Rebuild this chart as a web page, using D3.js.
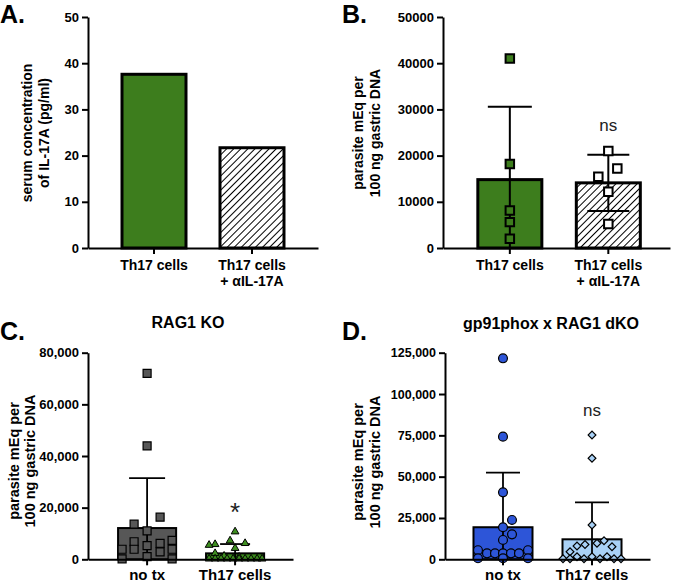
<!DOCTYPE html>
<html><head><meta charset="utf-8">
<script src="https://cdn.jsdelivr.net/npm/d3@7"></script>
<style>body{margin:0;background:#fff}svg{display:block}</style>
</head><body>
<script>
// ================= DATA =================
// Panel A
const aCategories = ["Th17 cells", "Th17 cells|+ \u03B1IL-17A"];
const aValues = [37.6, 21.7];
const aTicks = [0, 10, 20, 30, 40, 50];
// Panel B
const bCategories = ["Th17 cells", "Th17 cells|+ \u03B1IL-17A"];
const bMeans = [14800, 14100];
const bSD = [15800, 6100];
const bTh17 = [41000, 18200, 8100, 5600, 2000];
const bAnti = [21000, 17200, 15400, 12200, 5200];
const bTicks = [0, 10000, 20000, 30000, 40000, 50000];
// Panel C (RAG1 KO)
const cCategories = ["no tx", "Th17 cells"];
const cMeans = [12100, 2300];
const cSD = [19300, 3600];
const cNoTx = [72000, 43900, 16300, 13600, 11000, 7300, 6800, 6200, 5300, 3900, 3900, 3900, 2900, 1000, 200, 200];
const cTh17 = [10700, 7200, 6200, 5800, 5500, 4300, 2300, 1300, 900, 200, 200, 200, 200, 200, 200, 200, 200, 200, 200];
const cTicks = [0, 20000, 40000, 60000, 80000];
// Panel D (gp91phox x RAG1 dKO)
const dCategories = ["no tx", "Th17 cells"];
const dMeans = [19400, 12100];
const dSD = [33000, 22400];
const dNoTx = [121600, 74200, 40500, 23800, 19400, 15100, 11700, 5500, 3600, 3600, 3600, 3600, 3600, 5500, 600, 600, 600];
const dTh17 = [75200, 61100, 20800, 11200, 9700, 9000, 8000, 7600, 4600, 1600, 1600, 1600, 300, 300, 300, 300, 300, 300];
const dTicks = [0, 25000, 50000, 75000, 100000, 125000];

// ================= LAYOUT (horizontal scatter offsets, px) =================
const bAntiJitter = [0, 9, -10, 0, 0];
const cNoTxJitter = [0, 0, 13, -13, 0, 25, -13, 13, 0, -25, -13, 25, 13, 0, -25, 25];
const cTh17Jitter = [0, -5, 10, -20, -26, 0, -20, -11, 4, -26, -20, -14, -8, -2, 4, 10, 16, 22, 27];
const dNoTxJitter = [0, 0, 0, 9, 0, 9, 0, -25, -16, -8, 0, 8, 16, 25, -25, 0, 25];
const dTh17Jitter = [0, 0, 0, 12, 5, -7, -15, 20, -22, -15, 0, 15, -29, -22, -8, 8, 22, 29];

const FONT = "'Liberation Sans', Arial, Helvetica, sans-serif";
const W = 675, H = 584;
const svg = d3.select("body").append("svg").attr("width", W).attr("height", H)
  .style("font-family", FONT);

const defs = svg.append("defs");
const pat = defs.append("pattern").attr("id", "hatch").attr("patternUnits", "userSpaceOnUse")
  .attr("width", 5).attr("height", 5).attr("patternTransform", "rotate(45)");
pat.append("rect").attr("width", 5).attr("height", 5).attr("fill", "#fff");
pat.append("line").attr("x1", 0).attr("y1", 0).attr("x2", 0).attr("y2", 5)
  .attr("stroke", "#000").attr("stroke-width", 2);

function drawPanel(p) {
  const g = svg.append("g");
  const y = d3.scaleLinear().domain([0, p.max]).range([p.yBot, p.yTop]);
  const x = d3.scaleBand().domain(p.cats).range([p.x0, p.x1])
    .paddingInner(p.pi).paddingOuter(p.po).align(p.align);
  const cx = i => x(p.cats[i]) + x.bandwidth() / 2;

  // bars
  g.selectAll("rect.bar").data(p.means).join("rect").attr("class", "bar")
    .attr("x", (d, i) => x(p.cats[i]))
    .attr("y", d => y(d))
    .attr("width", x.bandwidth())
    .attr("height", d => y(0) - y(d))
    .attr("fill", (d, i) => p.fills[i])
    .attr("stroke", "#000").attr("stroke-width", p.barStroke);

  // error bars
  if (p.sds) {
    p.sds.forEach((sd, i) => {
      const m = p.means[i];
      const hi = m + sd, lo = Math.max(0, m - sd);
      const xc = cx(i);
      const eg = g.append("g").attr("stroke", "#000").attr("stroke-width", p.errStroke);
      eg.append("line").attr("x1", xc).attr("x2", xc).attr("y1", y(lo)).attr("y2", y(hi));
      eg.append("line").attr("x1", xc - p.capW[i] / 2).attr("x2", xc + p.capW[i] / 2).attr("y1", y(hi)).attr("y2", y(hi));
      if (m - sd > 0)
        eg.append("line").attr("x1", xc - p.capW[i] / 2).attr("x2", xc + p.capW[i] / 2).attr("y1", y(lo)).attr("y2", y(lo));
    });
  }

  // points
  if (p.points) {
    p.points.forEach((ps, i) => {
      const sym = d3.symbol().type(ps.type).size(ps.size);
      g.selectAll(null).data(ps.values).join("path")
        .attr("d", sym)
        .attr("transform", (d, j) => `translate(${cx(i) + (ps.jitter ? ps.jitter[j] : 0)},${y(d)})` + (ps.rotate ? ` rotate(${ps.rotate})` : ""))
        .attr("fill", ps.fill).attr("stroke", "#000").attr("stroke-width", ps.stroke);
    });
  }

  // y axis
  const ya = g.append("g").attr("transform", `translate(${p.x0},0)`)
    .call(d3.axisLeft(y).tickValues(p.ticks).tickFormat(p.fmt).tickSize(6).tickSizeOuter(0).tickPadding(3));
  ya.select(".domain").attr("stroke", "#000").attr("stroke-width", 2);
  ya.selectAll(".tick line").attr("stroke", "#000").attr("stroke-width", 2);
  ya.selectAll(".tick text").attr("font-family", FONT).attr("font-weight", "bold")
    .attr("font-size", p.tickFont).attr("fill", "#000");

  // x axis
  const xa = g.append("g").attr("transform", `translate(0,${p.yBot})`)
    .call(d3.axisBottom(x).tickSize(6).tickSizeOuter(0).tickPadding(4));
  xa.select(".domain").attr("stroke", "#000").attr("stroke-width", 2);
  xa.selectAll(".tick line").attr("stroke", "#000").attr("stroke-width", 2);
  xa.selectAll(".tick text").each(function (d) {
    const t = d3.select(this);
    const lines = d.split("|");
    t.text(null).attr("font-family", FONT).attr("font-weight", "bold")
      .attr("font-size", p.catFont).attr("fill", "#000").attr("y", 0).attr("dy", null);
    lines.forEach((ln, k) => t.append("tspan").attr("x", 0).attr("y", p.catY[k] - p.yBot).text(ln));
  });

  // y label
  const yl = g.append("text").attr("transform", `translate(0,${p.ylabY}) rotate(-90)`)
    .attr("text-anchor", "middle").attr("font-weight", "bold").attr("font-size", p.ylabFont).attr("fill", "#000");
  p.ylab.forEach((ln, k) => yl.append("tspan").attr("x", 0).attr("y", p.ylabX[k]).text(ln));

  // panel letter
  g.append("text").attr("x", p.letterX).attr("y", p.letterY).attr("font-weight", "bold")
    .attr("font-size", 25).attr("fill", "#000").text(p.letter);

  // title
  if (p.title) {
    g.append("text").attr("x", p.titleX).attr("y", p.titleY).attr("text-anchor", "middle")
      .attr("font-weight", "bold").attr("font-size", 16).attr("fill", "#000").text(p.title);
  }
  // annotations
  if (p.annot) {
    p.annot.forEach(a => {
      g.append("text").attr("x", cx(a.i)).attr("y", a.y).attr("text-anchor", "middle")
        .attr("font-size", a.size).attr("font-weight", a.weight || "normal").attr("fill", "#222").text(a.text);
    });
  }
}

// Panel A
drawPanel({
  letter: "A.", letterX: 0, letterY: 23,
  x0: 88, x1: 318, yTop: 17, yBot: 248, max: 50,
  pi: 0.347, po: 0.347, align: 0.5,
  cats: aCategories, means: aValues, fills: ["#3d7d1d", "url(#hatch)"], barStroke: 3,
  ticks: aTicks, fmt: d3.format("d"), tickFont: 13,
  catFont: 14, catY: [270, 286],
  ylab: ["serum concentration", "of IL-17A (pg/ml)"], ylabX: [32, 49], ylabY: 133, ylabFont: 14
});

// Panel B
drawPanel({
  letter: "B.", letterX: 342, letterY: 23,
  x0: 443, x1: 670, yTop: 17, yBot: 248, max: 50000,
  pi: 0.35, po: 0.3275, align: 0.54,
  cats: bCategories, means: bMeans, sds: bSD, capW: [44, 42], errStroke: 2,
  fills: ["#3d7d1d", "url(#hatch)"], barStroke: 3,
  points: [
    { values: bTh17, type: d3.symbolSquare, size: 72, fill: "#3d7d1d", stroke: 2 },
    { values: bAnti, jitter: bAntiJitter, type: d3.symbolSquare, size: 72, fill: "#fff", stroke: 2 }
  ],
  ticks: bTicks, fmt: d3.format("d"), tickFont: 13,
  catFont: 14, catY: [270, 286],
  ylab: ["parasite mEq per", "100 ng gastric DNA"], ylabX: [363, 380], ylabY: 133, ylabFont: 14,
  annot: [{ i: 1, y: 131, text: "ns", size: 17 }]
});

// Panel C
drawPanel({
  letter: "C.", letterX: 0, letterY: 340,
  title: "RAG1 KO", titleX: 188, titleY: 328,
  x0: 88, x1: 293, yTop: 352.7, yBot: 559.3, max: 80000,
  pi: 0.34, po: 0.335, align: 0.51,
  cats: cCategories, means: cMeans, sds: cSD, capW: [36, 30], errStroke: 1.8,
  fills: ["#575757", "#3a8a1c"], barStroke: 2,
  points: [
    { values: cNoTx, jitter: cNoTxJitter, type: d3.symbolSquare, size: 64, fill: "#575757", stroke: 1.2 },
    { values: cTh17, jitter: cTh17Jitter, type: d3.symbolTriangle, size: 26, fill: "#3e8e20", stroke: 1 }
  ],
  ticks: cTicks, fmt: d3.format(","), tickFont: 13,
  catFont: 15, catY: [580],
  ylab: ["parasite mEq per", "100 ng gastric DNA"], ylabX: [19, 35], ylabY: 461, ylabFont: 14.5,
  annot: [{ i: 1, y: 521, text: "*", size: 26, weight: "normal" }]
});

// Panel D
drawPanel({
  letter: "D.", letterX: 342, letterY: 340,
  title: "gp91phox x RAG1 dKO", titleX: 551, titleY: 329,
  x0: 445, x1: 650, yTop: 352.7, yBot: 559.3, max: 125000,
  pi: 0.337, po: 0.32, align: 0.5,
  cats: dCategories, means: dMeans, sds: dSD, capW: [34, 34], errStroke: 1.8,
  fills: ["#2d55d8", "#a9d1f6"], barStroke: 2,
  points: [
    { values: dNoTx, jitter: dNoTxJitter, type: d3.symbolCircle, size: 62, fill: "#2d55d8", stroke: 1.2 },
    { values: dTh17, jitter: dTh17Jitter, type: d3.symbolSquare, size: 30, rotate: 45, fill: "#a9d1f6", stroke: 1.2 }
  ],
  ticks: dTicks, fmt: d3.format(","), tickFont: 12.5,
  catFont: 15, catY: [580],
  ylab: ["parasite mEq per", "100 ng gastric DNA"], ylabX: [363, 380], ylabY: 462, ylabFont: 14.5,
  annot: [{ i: 1, y: 416, text: "ns", size: 17 }]
});
</script>
</body></html>
